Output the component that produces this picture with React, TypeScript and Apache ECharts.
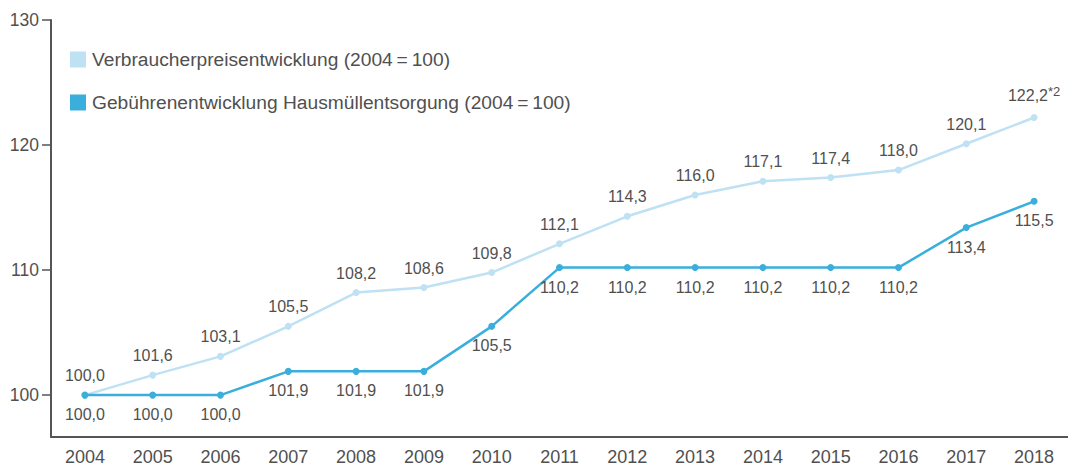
import React, { useEffect, useRef } from "react";
import * as echarts from "echarts";

const years = ["2004","2005","2006","2007","2008","2009","2010","2011","2012","2013","2014","2015","2016","2017","2018"];
const cpi = [100.0, 101.6, 103.1, 105.5, 108.2, 108.6, 109.8, 112.1, 114.3, 116.0, 117.1, 117.4, 118.0, 120.1, 122.2];
const fees = [100.0, 100.0, 100.0, 101.9, 101.9, 101.9, 105.5, 110.2, 110.2, 110.2, 110.2, 110.2, 110.2, 113.4, 115.5];
const yTicks = [100, 110, 120, 130];
const cpiName = "Verbraucherpreisentwicklung (2004\u2009=\u2009100)";
const feesName = "Gebührenentwicklung Hausmüllentsorgung (2004\u2009=\u2009100)";

const FONT = "'Liberation Sans', Arial, sans-serif";
const TEXT = "#505050";
const LIGHT = "#bfe1f4";
const DARK = "#3aafdc";

const fmt = (v: number) => v.toFixed(1).replace(".", ",");

export default function App() {
  const ref = useRef<HTMLDivElement>(null);
  useEffect(() => {
    const chart = echarts.init(ref.current!, null, { renderer: "svg" });
    chart.setOption({
      animation: false,
      textStyle: { fontFamily: FONT },
      grid: { left: 51, top: 20, width: 1018, height: 418, containLabel: false },
      legend: {
        orient: "vertical",
        left: 70,
        top: 50,
        padding: 0,
        itemWidth: 16,
        itemHeight: 16,
        itemGap: 24,
        icon: "rect",
        textStyle: { fontFamily: FONT, fontSize: 19.2, color: TEXT, padding: [0, 0, 0, 1] },
        data: [
          { name: cpiName, itemStyle: { color: LIGHT } },
          { name: feesName, itemStyle: { color: DARK } },
        ],
      },
      xAxis: {
        type: "category",
        data: years,
        boundaryGap: true,
        axisLine: { lineStyle: { color: "#555", width: 2 } },
        axisTick: { inside: true, length: 8, lineStyle: { color: "#555", width: 1.5 } },
        axisLabel: { color: TEXT, fontSize: 18, fontFamily: FONT, margin: 11 },
      },
      yAxis: {
        type: "value",
        min: 96.65,
        max: 130,
        splitLine: { show: false },
        axisLine: { show: true, lineStyle: { color: "#555", width: 2 } },
        axisTick: { show: true, length: 9, customValues: yTicks, lineStyle: { color: "#555", width: 1.5 } },
        axisLabel: { color: TEXT, fontSize: 17.5, fontFamily: FONT, margin: 12, customValues: yTicks },
      },
      series: [
        {
          name: cpiName,
          type: "line",
          data: cpi,
          color: LIGHT,
          symbol: "circle",
          symbolSize: 7,
          lineStyle: { width: 2.5, color: LIGHT },
          itemStyle: { color: LIGHT },
          z: 2,
          label: {
            show: true,
            position: "top",
            distance: 8,
            color: TEXT,
            fontSize: 16,
            fontFamily: FONT,
            formatter: (p: any) =>
              p.dataIndex === cpi.length - 1 ? `${fmt(p.value)}{sup|*2}` : fmt(p.value),
            rich: {
              sup: { fontSize: 13, color: TEXT, fontFamily: FONT, verticalAlign: "top", padding: [0, 0, 8, 0] },
            },
          },
        },
        {
          name: feesName,
          type: "line",
          data: fees,
          color: DARK,
          symbol: "circle",
          symbolSize: 7,
          lineStyle: { width: 2.5, color: DARK },
          itemStyle: { color: DARK },
          z: 3,
          label: {
            show: true,
            position: "bottom",
            distance: 8,
            color: TEXT,
            fontSize: 16,
            fontFamily: FONT,
            formatter: (p: any) => fmt(p.value),
          },
        },
      ],
    });
    return () => chart.dispose();
  }, []);
  return (
    <div
      ref={ref}
      style={{ position: "absolute", left: 0, top: 0, width: 1068, height: 466, background: "#fff" }}
    />
  );
}
